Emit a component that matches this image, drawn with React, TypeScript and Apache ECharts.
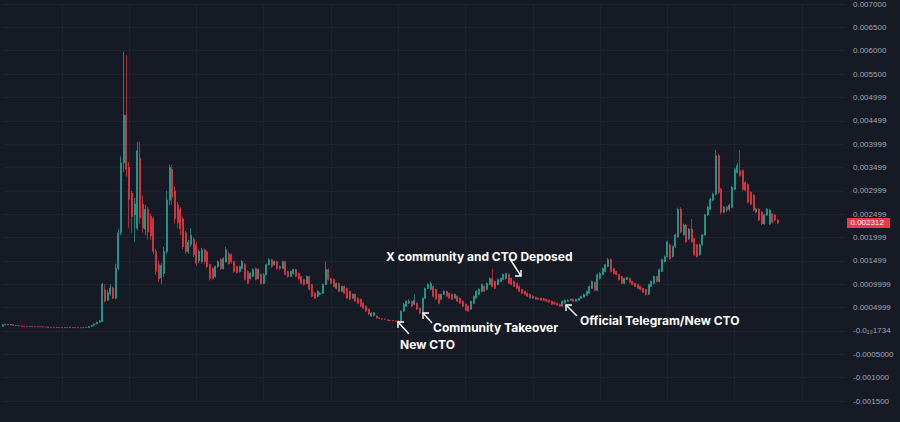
import React, { useEffect, useRef } from "react";
import * as echarts from "echarts";

// Prices below are in millionths (1e-6) of the quote currency: [open, close, low, high]
const PRICE_UNIT = 1e-6;

const segFlat: number[][] = [
  [100, 130, 95, 140], [130, 140, 122, 150], [140, 128, 120, 148], [128, 135, 120, 145], [135, 120, 110, 140],
  [120, 116, 108, 124], [116, 108, 100, 120], [108, 100, 94, 112], [100, 96, 90, 104], [96, 94, 88, 100],
  [94, 96, 88, 100], [96, 92, 86, 98], [92, 90, 84, 96], [90, 92, 85, 96], [92, 88, 82, 95],
  [88, 86, 80, 92], [86, 84, 78, 90], [84, 78, 72, 88], [78, 76, 70, 82], [76, 74, 68, 80],
  [74, 76, 70, 80], [76, 72, 66, 78], [72, 70, 64, 76], [70, 72, 66, 76], [72, 70, 64, 75],
  [70, 74, 66, 78], [74, 71, 66, 77], [71, 70, 64, 74], [70, 68, 62, 73], [68, 71, 64, 74],
  [71, 70, 64, 74], [70, 76, 66, 80], [76, 96, 72, 100], [96, 122, 92, 128], [122, 150, 116, 156],
  [150, 186, 144, 196], [186, 220, 180, 232],
];

const segPump: number[][] = [
  [200, 1000, 190, 1030], [880, 640, 610, 1000], [660, 820, 640, 880], [800, 920, 760, 1000], [920, 700, 680, 950],
  [700, 1340, 680, 1440], [1340, 2100, 1300, 2180], [2100, 3600, 2050, 3740], [3600, 4620, 3400, 5980], [4620, 3460, 3300, 5900],
  [3500, 2820, 2200, 3620], [2950, 2450, 2100, 3000], [2480, 2720, 1900, 2850], [2200, 3860, 2150, 4050], [3700, 2420, 2300, 4050],
  [2720, 2200, 2100, 2900], [2180, 2600, 2050, 2700], [2600, 2120, 1950, 2650], [2460, 2040, 1950, 2520], [2400, 1700, 1640, 2440],
  [1700, 1280, 1200, 1760], [1420, 1110, 1050, 1500], [1140, 1400, 1000, 1450], [1230, 1700, 1150, 1800], [1700, 2800, 1650, 3000],
  [2800, 3500, 2700, 3560], [3460, 2860, 2700, 3560], [3000, 2400, 2300, 3100], [2700, 2320, 2200, 2760], [2600, 2180, 2050, 2650],
  [2400, 1800, 1750, 2450], [2100, 1700, 1650, 2150], [1700, 1900, 1650, 1950], [1850, 2050, 1800, 2200], [1960, 1630, 1580, 2000],
  [1850, 1450, 1400, 1900], [1500, 1700, 1450, 1750],
];

const segDecline: number[][] = [
  [1484, 1738, 1440, 1780], [1738, 1484, 1440, 1760], [1696, 1378, 1340, 1720], [1420, 1124, 1080, 1440], [1336, 1124, 1100, 1360],
  [1166, 1378, 1140, 1400], [1378, 1484, 1350, 1510], [1526, 1336, 1300, 1560], [1336, 1548, 1310, 1580], [1484, 1738, 1460, 1800],
  [1654, 1442, 1420, 1700], [1632, 1484, 1440, 1660], [1484, 1272, 1240, 1500], [1378, 1251, 1220, 1400], [1272, 1378, 1250, 1400],
  [1336, 1484, 1320, 1520], [1420, 1102, 1080, 1450], [1272, 1018, 1000, 1300], [1124, 1230, 1100, 1260], [1166, 1314, 1150, 1340],
  [1336, 1102, 1080, 1360], [1124, 1314, 1100, 1340], [1208, 1018, 990, 1230], [1018, 1208, 1000, 1240], [1208, 1420, 1190, 1440],
  [1420, 1526, 1400, 1560], [1526, 1378, 1350, 1550], [1420, 1484, 1400, 1510], [1484, 1336, 1310, 1500], [1378, 1336, 1300, 1400],
  [1336, 1484, 1320, 1510], [1484, 1208, 1190, 1500], [1272, 1166, 1140, 1290], [1166, 1272, 1150, 1290], [1230, 1314, 1210, 1330],
  [1314, 1166, 1150, 1330], [1230, 1124, 1100, 1250], [1166, 1018, 1000, 1180], [1102, 996, 970, 1120], [1018, 1166, 1000, 1190],
  [1166, 890, 870, 1180], [996, 742, 720, 1010], [806, 700, 680, 830], [742, 848, 720, 870], [784, 806, 770, 830],
  [806, 996, 790, 1020], [996, 1314, 980, 1484], [1314, 1102, 1080, 1340], [1124, 1018, 1000, 1140], [1102, 954, 930, 1120],
  [912, 1018, 890, 1040], [1018, 848, 830, 1040], [848, 954, 830, 970], [954, 806, 790, 970], [912, 700, 680, 930],
  [848, 678, 660, 860], [700, 784, 680, 800], [784, 636, 620, 800], [700, 594, 570, 720], [678, 530, 510, 690],
  [594, 488, 470, 610], [530, 424, 400, 545], [466, 360, 340, 480], [318, 382, 300, 400], [330, 390, 310, 405],
  [318, 276, 260, 330], [280, 270, 260, 290], [262, 254, 245, 270], [254, 250, 240, 262], [240, 226, 218, 246],
  [226, 220, 210, 236], [220, 214, 205, 228], [214, 206, 198, 222],
];

const segTakeover: number[][] = [
  [220, 180, 165, 232], [200, 424, 190, 440], [424, 572, 410, 600], [530, 636, 515, 660], [594, 636, 580, 680],
  [636, 530, 510, 650], [572, 657, 560, 784], [594, 466, 450, 610], [488, 382, 360, 500], [382, 700, 370, 720],
  [700, 912, 690, 930], [912, 996, 900, 1020], [890, 1018, 880, 1060], [954, 742, 720, 970], [890, 678, 660, 910],
  [784, 594, 570, 800], [678, 784, 660, 800], [784, 848, 770, 870], [848, 742, 730, 860], [806, 700, 690, 820],
  [784, 678, 660, 800], [700, 784, 690, 800], [742, 636, 620, 760], [700, 594, 580, 720], [636, 530, 510, 650],
  [572, 445, 430, 590], [530, 424, 410, 545], [466, 636, 450, 650], [594, 742, 580, 760], [700, 848, 690, 870],
  [784, 890, 770, 910], [848, 996, 830, 1020], [954, 848, 830, 970], [890, 1018, 870, 1040], [996, 1124, 980, 1150],
  [1124, 954, 930, 1336], [1060, 912, 890, 1080], [996, 1102, 980, 1120], [1060, 1124, 1040, 1140], [1102, 1208, 1090, 1230],
  [1124, 1230, 1100, 1250], [1208, 1018, 1000, 1230], [1124, 996, 980, 1140], [1060, 954, 940, 1080], [1018, 912, 890, 1030],
  [954, 848, 830, 970], [890, 806, 790, 900], [848, 784, 770, 860], [806, 742, 730, 820], [784, 700, 690, 800],
  [700, 742, 690, 760], [721, 678, 665, 735], [700, 678, 665, 712], [700, 657, 645, 712], [690, 657, 645, 705],
  [678, 636, 625, 690], [657, 615, 600, 670], [636, 572, 560, 650], [615, 572, 560, 630], [594, 551, 540, 610],
  [572, 530, 515, 585], [530, 636, 520, 650], [594, 657, 585, 670], [636, 657, 625, 670], [657, 678, 645, 690],
  [678, 636, 625, 690], [636, 678, 625, 690], [657, 700, 645, 712], [700, 742, 690, 755], [721, 784, 710, 800],
  [763, 848, 750, 870], [806, 954, 790, 970], [912, 1060, 900, 1080], [1040, 870, 850, 1060],
];

const segRally: number[][] = [
  [870, 1208, 850, 1230], [1124, 1230, 1100, 1260], [1208, 1336, 1190, 1360], [1272, 1420, 1250, 1440], [1378, 1526, 1360, 1570],
  [1526, 1272, 1250, 1550], [1336, 1230, 1210, 1350], [1272, 1208, 1190, 1290], [1208, 1102, 1080, 1220], [1166, 1018, 1000, 1180],
  [1018, 1124, 1000, 1140], [1102, 1145, 1090, 1160], [1124, 1039, 1020, 1140], [1060, 996, 980, 1075], [1018, 954, 940, 1030],
  [996, 912, 900, 1010], [954, 890, 870, 965], [912, 827, 810, 925], [890, 784, 760, 900], [784, 996, 770, 1010],
  [954, 1060, 940, 1080], [1018, 1166, 1000, 1190], [1166, 1060, 1040, 1180], [1060, 1314, 1040, 1340], [1272, 1526, 1260, 1550],
  [1484, 1590, 1470, 1620], [1590, 1908, 1570, 1940], [1844, 1548, 1520, 1870], [1590, 1802, 1570, 1830], [1802, 2056, 1780, 2080],
  [2014, 2608, 2000, 2640], [2608, 2120, 2090, 2650], [2056, 2268, 2040, 2300], [2268, 1908, 1880, 2290], [1972, 2184, 1950, 2200],
  [2184, 1908, 1890, 2396], [1972, 1632, 1610, 1990], [1844, 1590, 1570, 1860], [1632, 1844, 1610, 1870], [1844, 2056, 1830, 2080],
  [2056, 2480, 2040, 2510], [2480, 2650, 2460, 2680], [2608, 2820, 2590, 2850], [2798, 2926, 2780, 2960], [2926, 3752, 2900, 3880],
  [3752, 2968, 2940, 3800], [3032, 2544, 2500, 3060], [2544, 2650, 2520, 2680], [2650, 2586, 2540, 2680], [2608, 2692, 2560, 2720],
  [2650, 3074, 2630, 3100], [3032, 3456, 3010, 3490], [3392, 3540, 3370, 3600], [3434, 3328, 3300, 3880], [3434, 3032, 3000, 3460],
  [3180, 3010, 2990, 3200], [3138, 2756, 2730, 3160], [2968, 2714, 2690, 2990], [2904, 2586, 2560, 2930], [2544, 2608, 2520, 2640],
  [2608, 2374, 2350, 2630], [2544, 2290, 2270, 2570], [2290, 2480, 2270, 2510], [2480, 2608, 2460, 2630], [2290, 2586, 2270, 2610],
  [2500, 2332, 2310, 2520], [2480, 2374, 2350, 2500], [2374, 2312, 2290, 2390],
];

const yTickLabels: string[] = [
  "-0.001500", "-0.001000", "-0.0005000", "-0.0\u2081\u20801734", "0.0004999", "0.0009999",
  "0.001499", "0.001999", "0.002499", "0.002999", "0.003499", "0.003999",
  "0.004499", "0.004999", "0.005500", "0.006000", "0.006500", "0.007000",
];

const Y_MIN = -0.0015;
const Y_MAX = 0.007;
const Y_STEP = 0.0005;
const TOTAL_SLOTS = 314;

const annotations = [
  { text: "X community and CTO Deposed", x: 386, y: 256 },
  { text: "Community Takeover", x: 433, y: 327 },
  { text: "New CTO", x: 400, y: 344 },
  { text: "Official Telegram/New CTO", x: 580, y: 320 },
];

const UP = "#22ab94";
const DOWN = "#f23645";
const LABEL_FONT = "Liberation Sans, Arial, sans-serif";

export default function App() {
  const ref = useRef<HTMLDivElement>(null);
  useEffect(() => {
    if (!ref.current) return;
    const chart = echarts.init(ref.current, undefined, { renderer: "svg" });
    const candles = [...segFlat, ...segPump, ...segDecline, ...segTakeover, ...segRally];
    const data = candles.map((c) => c.map((v) => v * PRICE_UNIT));
    const categories = Array.from({ length: TOTAL_SLOTS }, (_, i) => String(i));
    const lastClose = data[data.length - 1][1];

    const arrow = (tail: number[], tip: number[], h1: number[], h2: number[]) => [
      { type: "polyline", shape: { points: [tail, tip] }, style: { stroke: "#ffffff", lineWidth: 1.4, fill: null }, z: 100 },
      { type: "polyline", shape: { points: [h1, tip, h2] }, style: { stroke: "#ffffff", lineWidth: 1.4, fill: null }, z: 100 },
    ];

    const baseGraphics: any[] = [
      ...annotations.map((a) => ({
        type: "text",
        x: a.x,
        y: a.y,
        z: 100,
        style: {
          text: a.text,
          fill: "#ffffff",
          fontSize: 12,
          fontWeight: "bold",
          fontFamily: "Inter, Noto Sans, sans-serif",
          verticalAlign: "middle",
          align: "left",
        },
      })),
      ...arrow([409, 334], [398, 322], [404, 322], [398, 328]),
      ...arrow([432, 323], [423, 313], [429, 313], [423, 319]),
      ...arrow([510, 259], [521, 276], [521, 270], [515, 276]),
      ...arrow([577, 316], [566, 305], [572, 305], [566, 311]),
    ];

    chart.setOption({
      animation: false,
      backgroundColor: "#161a25",
      grid: { left: 2.7, right: 55, top: 0, bottom: 21 },
      xAxis: {
        type: "category",
        data: categories,
        boundaryGap: false,
        axisLine: { show: false },
        axisTick: { show: false },
        axisLabel: { show: false },
        splitLine: {
          show: true,
          interval: (idx: number) => idx % 25 === 22,
          lineStyle: { color: "#1e222d", width: 1 },
        },
      },
      yAxis: {
        type: "value",
        position: "right",
        min: Y_MIN,
        max: Y_MAX,
        interval: Y_STEP,
        axisLine: { show: false },
        axisTick: { show: false },
        splitLine: { show: true, lineStyle: { color: "#1f232e", width: 1 } },
        axisLabel: {
          margin: 8,
          color: "#a3a6af",
          fontSize: 8,
          fontFamily: LABEL_FONT,
          formatter: (v: number) => yTickLabels[Math.round((v - Y_MIN) / Y_STEP)] ?? "",
        },
      },
      series: [
        {
          type: "candlestick",
          data,
          barWidth: 1.5,
          clip: false,
          itemStyle: {
            color: UP,
            color0: DOWN,
            borderColor: UP,
            borderColor0: DOWN,
            borderWidth: 0.7,
          },
        },
      ],
      graphic: baseGraphics,
    });

    // Last-price tag on the price scale, placed through the y axis scale
    const py = chart.convertToPixel({ yAxisIndex: 0 }, lastClose) as number;
    chart.setOption({
      graphic: [
        ...baseGraphics,
        {
          type: "rect",
          x: 847,
          y: py - 5,
          z: 90,
          shape: { width: 43, height: 10 },
          style: { fill: DOWN },
        },
        {
          type: "text",
          x: 850.5,
          y: py,
          z: 91,
          style: {
            text: lastClose.toFixed(6),
            fill: "#ffffff",
            fontSize: 8,
            fontFamily: LABEL_FONT,
            verticalAlign: "middle",
            align: "left",
          },
        },
      ],
    });
    return () => chart.dispose();
  }, []);
  return <div ref={ref} style={{ position: "fixed", left: 0, top: 0, width: 900, height: 422 }} />;
}
